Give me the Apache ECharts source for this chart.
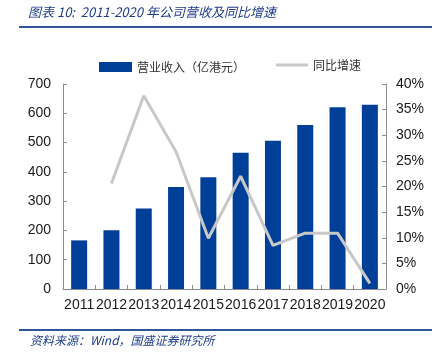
<!DOCTYPE html>
<html>
<head>
<meta charset="utf-8">
<script src="https://cdn.jsdelivr.net/npm/echarts@6/dist/echarts.min.js"></script>
<style>
html, body {margin: 0; padding: 0; background: #fff;}
#chart {width: 441px; height: 353px;}
</style>
</head>
<body>
<div id="chart"></div>
<script>
var years = ['2011', '2012', '2013', '2014', '2015', '2016', '2017', '2018', '2019', '2020'];
var revenue = [166, 201, 275, 348, 382, 465, 506, 560, 621, 629];
var growth = [null, 20.6, 37.7, 26.8, 9.9, 22.0, 8.5, 10.9, 10.9, 1.1];
var leftTicks = [0, 700, 100];
var rightTicks = [0, 40, 5];

var chart = echarts.init(document.getElementById('chart'));
var axisFont = {color: '#1a1a1a', fontSize: 14, fontFamily: 'Liberation Sans'};
var axisLine = {show: true, lineStyle: {color: '#8c8c8c', width: 1}};
var tick = {show: true, inside: true, length: 4, lineStyle: {color: '#8c8c8c'}};
var legendText = {color: '#333', fontSize: 12, fontFamily: 'Noto Sans CJK SC'};

chart.setOption({
    animation: false,
    graphic: [
        {type: 'text', left: 28, top: 6, style: {text: '图表 10:  2011-2020 年公司营收及同比增速', fill: '#1f3d8c', font: 'italic 13px "Noto Sans CJK SC", "DejaVu Sans"'}},
        {type: 'rect', shape: {x: 19, y: 26, width: 413, height: 2}, style: {fill: '#2f5597'}},
        {type: 'rect', shape: {x: 19, y: 329, width: 413, height: 2}, style: {fill: '#2f5597'}},
        {type: 'text', left: 30, top: 334, style: {text: '资料来源：Wind，国盛证券研究所', fill: '#1f3d8c', font: 'italic 12px "Noto Sans CJK SC", "DejaVu Sans"'}}
    ],
    legend: [
        {
            top: 56, left: 94, itemWidth: 33, itemHeight: 10,
            textStyle: legendText,
            data: [{name: '营业收入（亿港元）', icon: 'rect'}]
        },
        {
            top: 54, left: 271, itemWidth: 32, itemHeight: 3,
            textStyle: legendText,
            data: [{name: '同比增速', icon: 'rect'}]
        }
    ],
    grid: {left: 63, right: 55, top: 84, bottom: 64},
    xAxis: {
        type: 'category',
        data: years,
        axisLine: axisLine,
        axisTick: tick,
        axisLabel: Object.assign({margin: 9, interval: 0}, axisFont)
    },
    yAxis: [
        {
            type: 'value', min: leftTicks[0], max: leftTicks[1], interval: leftTicks[2],
            axisLine: axisLine,
            axisTick: tick,
            axisLabel: Object.assign({margin: 12}, axisFont),
            splitLine: {show: false}
        },
        {
            type: 'value', min: rightTicks[0], max: rightTicks[1], interval: rightTicks[2],
            position: 'right',
            axisLine: axisLine,
            axisTick: tick,
            axisLabel: Object.assign({margin: 10, formatter: '{value}%'}, axisFont),
            splitLine: {show: false}
        }
    ],
    series: [
        {
            name: '营业收入（亿港元）',
            type: 'bar',
            data: revenue,
            barWidth: 16,
            itemStyle: {color: '#003f98'}
        },
        {
            name: '同比增速',
            type: 'line',
            yAxisIndex: 1,
            data: growth,
            symbol: 'none',
            connectNulls: false,
            lineStyle: {color: '#c8c8c8', width: 3},
            itemStyle: {color: '#c8c8c8'}
        }
    ]
});
</script>
</body>
</html>
